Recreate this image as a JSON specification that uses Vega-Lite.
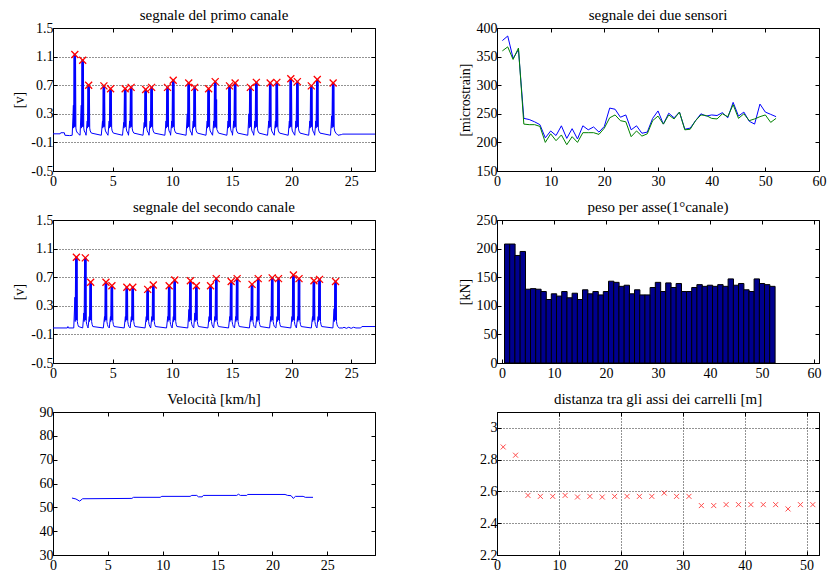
{
"$schema": "https://vega.github.io/schema/vega-lite/v6.json",
"background": "white",
"padding": {"left": 12, "top": 7, "right": 5, "bottom": 5},
"config": {
  "locale": {"number": {"decimal": ".", "thousands": ",", "grouping": [3], "currency": ["$", ""], "minus": "-"}},
  "font": "Liberation Serif",
  "view": {"stroke": "black", "strokeWidth": 1},
  "axis": {"labelFont": "Liberation Serif", "labelFontSize": 14, "labelColor": "black", "titleFont": "Liberation Serif", "titleFontSize": 14, "titleFontWeight": "normal", "titleColor": "black", "tickColor": "black", "tickSize": -4, "labelPadding": 4, "domainColor": "black", "grid": false, "gridColor": "black", "gridDash": [1, 2], "gridOpacity": 0.85, "labelFlush": false, "labelOverlap": false, "format": ".6~g"},
  "axisX": {"labelPadding": 7},
  "title": {"font": "Liberation Serif", "fontSize": 15, "fontWeight": "normal", "color": "black", "offset": -2, "anchor": "middle"}
},
"bounds": "flush",
"columns": 2,
"spacing": {"row": 49, "column": 122},
"datasets": {
  "s1": [
    {"t":0,"v":0.02},{"t":0.6,"v":0.02},{"t":0.65,"v":0.035},{"t":0.95,"v":0.035},{"t":1.0,"v":0.0},{"t":1.4,"v":-0.005},
    {"t":1.61,"v":0},{"t":1.71,"v":0.42},{"t":1.73,"v":0.1},{"t":1.77,"v":1.13},{"t":1.80,"v":0.12},{"t":1.83,"v":1.13},{"t":1.86,"v":0.12},{"t":1.89,"v":1.13},{"t":1.92,"v":0.1},{"t":1.96,"v":0.06},{"t":2.06,"v":0.03},
    {"t":2.27,"v":0},{"t":2.37,"v":0.42},{"t":2.39,"v":0.1},{"t":2.43,"v":1.05},{"t":2.46,"v":0.12},{"t":2.49,"v":1.05},{"t":2.52,"v":0.12},{"t":2.55,"v":1.05},{"t":2.58,"v":0.1},{"t":2.62,"v":0.06},{"t":2.72,"v":0.03},
    {"t":2.77,"v":0},{"t":2.87,"v":0.2},{"t":2.89,"v":0.1},{"t":2.93,"v":0.70},{"t":2.96,"v":0.12},{"t":2.99,"v":0.70},{"t":3.02,"v":0.12},{"t":3.05,"v":0.70},{"t":3.08,"v":0.1},{"t":3.12,"v":0.06},{"t":3.22,"v":0.03},
    {"t":4.05,"v":0},{"t":4.15,"v":0.2},{"t":4.17,"v":0.1},{"t":4.21,"v":0.69},{"t":4.24,"v":0.12},{"t":4.27,"v":0.69},{"t":4.30,"v":0.12},{"t":4.33,"v":0.69},{"t":4.36,"v":0.1},{"t":4.40,"v":0.06},{"t":4.50,"v":0.03},
    {"t":4.61,"v":0},{"t":4.71,"v":0.2},{"t":4.73,"v":0.1},{"t":4.77,"v":0.65},{"t":4.80,"v":0.12},{"t":4.83,"v":0.65},{"t":4.86,"v":0.12},{"t":4.89,"v":0.65},{"t":4.92,"v":0.1},{"t":4.96,"v":0.06},{"t":5.06,"v":0.03},
    {"t":5.83,"v":0},{"t":5.93,"v":0.18},{"t":5.95,"v":0.1},{"t":5.99,"v":0.65},{"t":6.02,"v":0.12},{"t":6.05,"v":0.65},{"t":6.08,"v":0.12},{"t":6.11,"v":0.65},{"t":6.14,"v":0.1},{"t":6.18,"v":0.06},{"t":6.28,"v":0.03},
    {"t":6.33,"v":0},{"t":6.43,"v":0.2},{"t":6.45,"v":0.1},{"t":6.49,"v":0.67},{"t":6.52,"v":0.12},{"t":6.55,"v":0.67},{"t":6.58,"v":0.12},{"t":6.61,"v":0.67},{"t":6.64,"v":0.1},{"t":6.68,"v":0.06},{"t":6.78,"v":0.03},
    {"t":7.55,"v":0},{"t":7.65,"v":0.18},{"t":7.67,"v":0.1},{"t":7.71,"v":0.64},{"t":7.74,"v":0.12},{"t":7.77,"v":0.64},{"t":7.80,"v":0.12},{"t":7.83,"v":0.64},{"t":7.86,"v":0.1},{"t":7.90,"v":0.06},{"t":8.00,"v":0.03},
    {"t":8.05,"v":0},{"t":8.15,"v":0.2},{"t":8.17,"v":0.1},{"t":8.21,"v":0.67},{"t":8.24,"v":0.12},{"t":8.27,"v":0.67},{"t":8.30,"v":0.12},{"t":8.33,"v":0.67},{"t":8.36,"v":0.1},{"t":8.40,"v":0.06},{"t":8.50,"v":0.03},
    {"t":9.38,"v":0},{"t":9.48,"v":0.2},{"t":9.50,"v":0.1},{"t":9.54,"v":0.67},{"t":9.57,"v":0.12},{"t":9.60,"v":0.67},{"t":9.63,"v":0.12},{"t":9.66,"v":0.67},{"t":9.69,"v":0.1},{"t":9.73,"v":0.06},{"t":9.83,"v":0.03},
    {"t":9.86,"v":0},{"t":9.96,"v":0.2},{"t":9.98,"v":0.1},{"t":10.02,"v":0.77},{"t":10.05,"v":0.12},{"t":10.08,"v":0.77},{"t":10.11,"v":0.12},{"t":10.14,"v":0.77},{"t":10.17,"v":0.1},{"t":10.21,"v":0.06},{"t":10.31,"v":0.03},
    {"t":11.16,"v":0},{"t":11.26,"v":0.3},{"t":11.28,"v":0.1},{"t":11.32,"v":0.73},{"t":11.35,"v":0.12},{"t":11.38,"v":0.73},{"t":11.41,"v":0.12},{"t":11.44,"v":0.73},{"t":11.47,"v":0.1},{"t":11.51,"v":0.06},{"t":11.61,"v":0.03},
    {"t":11.66,"v":0},{"t":11.76,"v":0.2},{"t":11.78,"v":0.1},{"t":11.82,"v":0.67},{"t":11.85,"v":0.12},{"t":11.88,"v":0.67},{"t":11.91,"v":0.12},{"t":11.94,"v":0.67},{"t":11.97,"v":0.1},{"t":12.01,"v":0.06},{"t":12.11,"v":0.03},
    {"t":12.83,"v":0},{"t":12.93,"v":0.2},{"t":12.95,"v":0.1},{"t":12.99,"v":0.65},{"t":13.02,"v":0.12},{"t":13.05,"v":0.65},{"t":13.08,"v":0.12},{"t":13.11,"v":0.65},{"t":13.14,"v":0.1},{"t":13.18,"v":0.06},{"t":13.28,"v":0.03},
    {"t":13.38,"v":0},{"t":13.48,"v":0.2},{"t":13.50,"v":0.1},{"t":13.54,"v":0.75},{"t":13.57,"v":0.12},{"t":13.60,"v":0.75},{"t":13.63,"v":0.12},{"t":13.66,"v":0.75},{"t":13.69,"v":0.1},{"t":13.72,"v":0.5},{"t":13.74,"v":0.08},{"t":13.80,"v":0.06},{"t":13.88,"v":0.03},
    {"t":14.58,"v":0},{"t":14.68,"v":0.2},{"t":14.70,"v":0.1},{"t":14.74,"v":0.69},{"t":14.77,"v":0.12},{"t":14.80,"v":0.69},{"t":14.83,"v":0.12},{"t":14.86,"v":0.69},{"t":14.89,"v":0.1},{"t":14.93,"v":0.06},{"t":15.03,"v":0.03},
    {"t":15.05,"v":0},{"t":15.15,"v":0.2},{"t":15.17,"v":0.1},{"t":15.21,"v":0.73},{"t":15.24,"v":0.12},{"t":15.27,"v":0.73},{"t":15.30,"v":0.12},{"t":15.33,"v":0.73},{"t":15.36,"v":0.1},{"t":15.40,"v":0.06},{"t":15.50,"v":0.03},
    {"t":16.33,"v":0},{"t":16.43,"v":0.3},{"t":16.45,"v":0.1},{"t":16.49,"v":0.67},{"t":16.52,"v":0.12},{"t":16.55,"v":0.67},{"t":16.58,"v":0.12},{"t":16.61,"v":0.67},{"t":16.64,"v":0.1},{"t":16.68,"v":0.06},{"t":16.78,"v":0.03},
    {"t":16.83,"v":0},{"t":16.93,"v":0.2},{"t":16.95,"v":0.1},{"t":16.99,"v":0.74},{"t":17.02,"v":0.12},{"t":17.05,"v":0.74},{"t":17.08,"v":0.12},{"t":17.11,"v":0.74},{"t":17.14,"v":0.1},{"t":17.18,"v":0.06},{"t":17.28,"v":0.03},
    {"t":17.99,"v":0},{"t":18.09,"v":0.2},{"t":18.11,"v":0.1},{"t":18.15,"v":0.73},{"t":18.18,"v":0.12},{"t":18.21,"v":0.73},{"t":18.24,"v":0.12},{"t":18.27,"v":0.73},{"t":18.30,"v":0.1},{"t":18.34,"v":0.06},{"t":18.44,"v":0.03},
    {"t":18.55,"v":0},{"t":18.65,"v":0.2},{"t":18.67,"v":0.1},{"t":18.71,"v":0.74},{"t":18.74,"v":0.12},{"t":18.77,"v":0.74},{"t":18.80,"v":0.12},{"t":18.83,"v":0.74},{"t":18.86,"v":0.1},{"t":18.90,"v":0.06},{"t":19.00,"v":0.03},
    {"t":19.72,"v":0},{"t":19.82,"v":0.2},{"t":19.84,"v":0.1},{"t":19.88,"v":0.79},{"t":19.91,"v":0.12},{"t":19.94,"v":0.79},{"t":19.97,"v":0.12},{"t":20.00,"v":0.79},{"t":20.03,"v":0.1},{"t":20.07,"v":0.06},{"t":20.17,"v":0.03},
    {"t":20.27,"v":0},{"t":20.37,"v":0.2},{"t":20.39,"v":0.1},{"t":20.43,"v":0.75},{"t":20.46,"v":0.12},{"t":20.49,"v":0.75},{"t":20.52,"v":0.12},{"t":20.55,"v":0.75},{"t":20.58,"v":0.1},{"t":20.62,"v":0.06},{"t":20.72,"v":0.03},
    {"t":21.44,"v":0},{"t":21.54,"v":0.2},{"t":21.56,"v":0.1},{"t":21.60,"v":0.69},{"t":21.63,"v":0.12},{"t":21.66,"v":0.69},{"t":21.69,"v":0.12},{"t":21.72,"v":0.69},{"t":21.75,"v":0.1},{"t":21.79,"v":0.06},{"t":21.89,"v":0.03},
    {"t":21.94,"v":0},{"t":22.04,"v":0.2},{"t":22.06,"v":0.1},{"t":22.10,"v":0.78},{"t":22.13,"v":0.12},{"t":22.16,"v":0.78},{"t":22.19,"v":0.12},{"t":22.22,"v":0.78},{"t":22.25,"v":0.1},{"t":22.29,"v":0.06},{"t":22.39,"v":0.03},
    {"t":23.27,"v":0},{"t":23.37,"v":0.27},{"t":23.39,"v":0.1},{"t":23.43,"v":0.73},{"t":23.46,"v":0.12},{"t":23.49,"v":0.73},{"t":23.52,"v":0.12},{"t":23.55,"v":0.73},{"t":23.58,"v":0.1},{"t":23.62,"v":0.06},{"t":23.72,"v":0.03},
    {"t":23.9,"v":0.0},{"t":24.2,"v":0.01},{"t":24.3,"v":0.016},{"t":27,"v":0.016}
  ],
  "s1p": [
    {"t":1.83,"v":1.13},{"t":2.49,"v":1.05},{"t":2.99,"v":0.70},{"t":4.27,"v":0.69},{"t":4.83,"v":0.65},{"t":6.05,"v":0.65},{"t":6.55,"v":0.67},{"t":7.77,"v":0.64},{"t":8.27,"v":0.67},{"t":9.60,"v":0.67},{"t":10.08,"v":0.77},{"t":11.38,"v":0.73},{"t":11.88,"v":0.67},{"t":13.05,"v":0.65},{"t":13.60,"v":0.75},{"t":14.80,"v":0.69},{"t":15.27,"v":0.73},{"t":16.55,"v":0.67},{"t":17.05,"v":0.74},{"t":18.21,"v":0.73},{"t":18.77,"v":0.74},{"t":19.94,"v":0.79},{"t":20.49,"v":0.75},{"t":21.66,"v":0.69},{"t":22.16,"v":0.78},{"t":23.49,"v":0.73}
  ],
  "s3": [
    {"t":0,"v":-0.01},{"t":1.2,"v":-0.01},{"t":1.25,"v":0.01},{"t":1.3,"v":-0.01},
    {"t":1.74,"v":-0.01},{"t":1.84,"v":0.42},{"t":1.86,"v":0.08},{"t":1.90,"v":0.98},{"t":1.93,"v":0.1},{"t":1.96,"v":0.98},{"t":1.99,"v":0.1},{"t":2.02,"v":0.98},{"t":2.04,"v":0.08},{"t":2.08,"v":0.04},{"t":2.14,"v":0.01},
    {"t":2.49,"v":-0.01},{"t":2.59,"v":0.2},{"t":2.61,"v":0.08},{"t":2.65,"v":0.97},{"t":2.68,"v":0.1},{"t":2.71,"v":0.97},{"t":2.74,"v":0.1},{"t":2.77,"v":0.97},{"t":2.79,"v":0.08},{"t":2.83,"v":0.04},{"t":2.89,"v":0.01},
    {"t":2.94,"v":-0.01},{"t":3.04,"v":0.15},{"t":3.06,"v":0.08},{"t":3.10,"v":0.63},{"t":3.13,"v":0.1},{"t":3.16,"v":0.63},{"t":3.19,"v":0.1},{"t":3.22,"v":0.63},{"t":3.24,"v":0.08},{"t":3.28,"v":0.04},{"t":3.34,"v":0.01},
    {"t":4.22,"v":-0.01},{"t":4.32,"v":0.15},{"t":4.34,"v":0.08},{"t":4.38,"v":0.63},{"t":4.41,"v":0.1},{"t":4.44,"v":0.63},{"t":4.47,"v":0.1},{"t":4.50,"v":0.63},{"t":4.52,"v":0.08},{"t":4.56,"v":0.04},{"t":4.62,"v":0.01},
    {"t":4.72,"v":-0.01},{"t":4.82,"v":0.15},{"t":4.84,"v":0.08},{"t":4.88,"v":0.58},{"t":4.91,"v":0.1},{"t":4.94,"v":0.58},{"t":4.97,"v":0.1},{"t":5.00,"v":0.58},{"t":5.02,"v":0.08},{"t":5.06,"v":0.04},{"t":5.12,"v":0.01},
    {"t":5.97,"v":-0.01},{"t":6.07,"v":0.15},{"t":6.09,"v":0.08},{"t":6.13,"v":0.56},{"t":6.16,"v":0.1},{"t":6.19,"v":0.56},{"t":6.22,"v":0.1},{"t":6.25,"v":0.56},{"t":6.27,"v":0.08},{"t":6.31,"v":0.04},{"t":6.37,"v":0.01},
    {"t":6.47,"v":-0.01},{"t":6.57,"v":0.15},{"t":6.59,"v":0.08},{"t":6.63,"v":0.56},{"t":6.66,"v":0.1},{"t":6.69,"v":0.56},{"t":6.72,"v":0.1},{"t":6.75,"v":0.56},{"t":6.77,"v":0.08},{"t":6.81,"v":0.04},{"t":6.87,"v":0.01},
    {"t":7.72,"v":-0.01},{"t":7.82,"v":0.15},{"t":7.84,"v":0.08},{"t":7.88,"v":0.53},{"t":7.91,"v":0.1},{"t":7.94,"v":0.53},{"t":7.97,"v":0.1},{"t":8.00,"v":0.53},{"t":8.02,"v":0.08},{"t":8.06,"v":0.04},{"t":8.12,"v":0.01},
    {"t":8.19,"v":-0.01},{"t":8.29,"v":0.15},{"t":8.31,"v":0.08},{"t":8.35,"v":0.59},{"t":8.38,"v":0.1},{"t":8.41,"v":0.59},{"t":8.44,"v":0.1},{"t":8.47,"v":0.59},{"t":8.49,"v":0.08},{"t":8.53,"v":0.04},{"t":8.59,"v":0.01},
    {"t":9.52,"v":-0.01},{"t":9.62,"v":0.15},{"t":9.64,"v":0.08},{"t":9.68,"v":0.58},{"t":9.71,"v":0.1},{"t":9.74,"v":0.58},{"t":9.77,"v":0.1},{"t":9.80,"v":0.58},{"t":9.82,"v":0.08},{"t":9.86,"v":0.04},{"t":9.92,"v":0.01},
    {"t":9.99,"v":-0.01},{"t":10.09,"v":0.15},{"t":10.11,"v":0.08},{"t":10.15,"v":0.66},{"t":10.18,"v":0.1},{"t":10.21,"v":0.66},{"t":10.24,"v":0.1},{"t":10.27,"v":0.66},{"t":10.29,"v":0.08},{"t":10.33,"v":0.04},{"t":10.39,"v":0.01},
    {"t":11.30,"v":-0.01},{"t":11.40,"v":0.25},{"t":11.42,"v":0.08},{"t":11.46,"v":0.65},{"t":11.49,"v":0.1},{"t":11.52,"v":0.65},{"t":11.55,"v":0.1},{"t":11.58,"v":0.65},{"t":11.60,"v":0.08},{"t":11.64,"v":0.04},{"t":11.70,"v":0.01},
    {"t":11.80,"v":-0.01},{"t":11.90,"v":0.2},{"t":11.92,"v":0.08},{"t":11.96,"v":0.58},{"t":11.99,"v":0.1},{"t":12.02,"v":0.58},{"t":12.05,"v":0.1},{"t":12.08,"v":0.58},{"t":12.10,"v":0.08},{"t":12.14,"v":0.04},{"t":12.20,"v":0.01},
    {"t":12.99,"v":-0.01},{"t":13.09,"v":0.15},{"t":13.11,"v":0.08},{"t":13.15,"v":0.58},{"t":13.18,"v":0.1},{"t":13.21,"v":0.58},{"t":13.24,"v":0.1},{"t":13.27,"v":0.58},{"t":13.29,"v":0.08},{"t":13.33,"v":0.04},{"t":13.39,"v":0.01},
    {"t":13.47,"v":-0.01},{"t":13.57,"v":0.15},{"t":13.59,"v":0.08},{"t":13.63,"v":0.68},{"t":13.66,"v":0.1},{"t":13.69,"v":0.68},{"t":13.72,"v":0.1},{"t":13.75,"v":0.68},{"t":13.77,"v":0.08},{"t":13.81,"v":0.04},{"t":13.87,"v":0.01},
    {"t":14.72,"v":-0.01},{"t":14.82,"v":0.15},{"t":14.84,"v":0.08},{"t":14.88,"v":0.64},{"t":14.91,"v":0.1},{"t":14.94,"v":0.64},{"t":14.97,"v":0.1},{"t":15.00,"v":0.64},{"t":15.02,"v":0.08},{"t":15.06,"v":0.04},{"t":15.12,"v":0.01},
    {"t":15.22,"v":-0.01},{"t":15.32,"v":0.15},{"t":15.34,"v":0.08},{"t":15.38,"v":0.68},{"t":15.41,"v":0.1},{"t":15.44,"v":0.68},{"t":15.47,"v":0.1},{"t":15.50,"v":0.68},{"t":15.52,"v":0.08},{"t":15.56,"v":0.04},{"t":15.62,"v":0.01},
    {"t":16.47,"v":-0.01},{"t":16.57,"v":0.15},{"t":16.59,"v":0.08},{"t":16.63,"v":0.60},{"t":16.66,"v":0.1},{"t":16.69,"v":0.60},{"t":16.72,"v":0.1},{"t":16.75,"v":0.60},{"t":16.77,"v":0.08},{"t":16.81,"v":0.04},{"t":16.87,"v":0.01},
    {"t":16.99,"v":-0.01},{"t":17.09,"v":0.15},{"t":17.11,"v":0.08},{"t":17.15,"v":0.68},{"t":17.18,"v":0.1},{"t":17.21,"v":0.68},{"t":17.24,"v":0.1},{"t":17.27,"v":0.68},{"t":17.29,"v":0.08},{"t":17.33,"v":0.04},{"t":17.39,"v":0.01},
    {"t":18.16,"v":-0.01},{"t":18.26,"v":0.15},{"t":18.28,"v":0.08},{"t":18.32,"v":0.69},{"t":18.35,"v":0.1},{"t":18.38,"v":0.69},{"t":18.41,"v":0.1},{"t":18.44,"v":0.69},{"t":18.46,"v":0.08},{"t":18.50,"v":0.04},{"t":18.56,"v":0.01},
    {"t":18.69,"v":-0.01},{"t":18.79,"v":0.15},{"t":18.81,"v":0.08},{"t":18.85,"v":0.68},{"t":18.88,"v":0.1},{"t":18.91,"v":0.68},{"t":18.94,"v":0.1},{"t":18.97,"v":0.68},{"t":18.99,"v":0.08},{"t":19.03,"v":0.04},{"t":19.09,"v":0.01},
    {"t":19.94,"v":-0.01},{"t":20.04,"v":0.15},{"t":20.06,"v":0.08},{"t":20.10,"v":0.73},{"t":20.13,"v":0.1},{"t":20.16,"v":0.73},{"t":20.19,"v":0.1},{"t":20.22,"v":0.73},{"t":20.24,"v":0.08},{"t":20.28,"v":0.04},{"t":20.34,"v":0.01},
    {"t":20.41,"v":-0.01},{"t":20.51,"v":0.15},{"t":20.53,"v":0.08},{"t":20.57,"v":0.68},{"t":20.60,"v":0.1},{"t":20.63,"v":0.68},{"t":20.66,"v":0.1},{"t":20.69,"v":0.68},{"t":20.71,"v":0.08},{"t":20.75,"v":0.04},{"t":20.81,"v":0.01},
    {"t":21.66,"v":-0.01},{"t":21.76,"v":0.15},{"t":21.78,"v":0.08},{"t":21.82,"v":0.65},{"t":21.85,"v":0.1},{"t":21.88,"v":0.65},{"t":21.91,"v":0.1},{"t":21.94,"v":0.65},{"t":21.96,"v":0.08},{"t":22.00,"v":0.04},{"t":22.06,"v":0.01},
    {"t":22.13,"v":-0.01},{"t":22.23,"v":0.15},{"t":22.25,"v":0.08},{"t":22.29,"v":0.67},{"t":22.32,"v":0.1},{"t":22.35,"v":0.67},{"t":22.38,"v":0.1},{"t":22.41,"v":0.67},{"t":22.43,"v":0.08},{"t":22.47,"v":0.04},{"t":22.53,"v":0.01},
    {"t":23.47,"v":-0.01},{"t":23.57,"v":0.26},{"t":23.59,"v":0.08},{"t":23.63,"v":0.64},{"t":23.66,"v":0.1},{"t":23.69,"v":0.64},{"t":23.72,"v":0.1},{"t":23.75,"v":0.64},{"t":23.77,"v":0.08},{"t":23.81,"v":0.04},{"t":23.87,"v":0.01},
    {"t":24.0,"v":-0.01},{"t":24.3,"v":-0.01},{"t":24.4,"v":0.0},{"t":24.6,"v":-0.015},{"t":24.8,"v":0.0},{"t":25.0,"v":-0.015},{"t":25.2,"v":0.0},{"t":25.4,"v":-0.01},{"t":25.8,"v":-0.01},{"t":25.9,"v":0.01},{"t":27,"v":0.01}
  ],
  "s3p": [
    {"t":1.96,"v":0.98},{"t":2.71,"v":0.97},{"t":3.16,"v":0.63},{"t":4.44,"v":0.63},{"t":4.94,"v":0.58},{"t":6.19,"v":0.56},{"t":6.69,"v":0.56},{"t":7.94,"v":0.53},{"t":8.41,"v":0.59},{"t":9.74,"v":0.58},{"t":10.21,"v":0.66},{"t":11.52,"v":0.65},{"t":12.02,"v":0.58},{"t":13.21,"v":0.58},{"t":13.69,"v":0.68},{"t":14.94,"v":0.64},{"t":15.44,"v":0.68},{"t":16.69,"v":0.60},{"t":17.21,"v":0.68},{"t":18.38,"v":0.69},{"t":18.91,"v":0.68},{"t":20.16,"v":0.73},{"t":20.63,"v":0.68},{"t":21.88,"v":0.65},{"t":22.35,"v":0.67},{"t":23.69,"v":0.64}
  ],
  "s2": [
    {"n":1,"a":378,"b":360},{"n":2,"a":386,"b":367},{"n":3,"a":347,"b":345},{"n":4,"a":362,"b":365},{"n":5,"a":242,"b":232},{"n":6,"a":240,"b":231},{"n":7,"a":236,"b":231},{"n":8,"a":231,"b":228},{"n":9,"a":208,"b":200},{"n":10,"a":220,"b":215},
    {"n":11,"a":212,"b":203},{"n":12,"a":229,"b":213},{"n":13,"a":207,"b":196},{"n":14,"a":224,"b":210},{"n":15,"a":206,"b":200},{"n":16,"a":229,"b":217},{"n":17,"a":222,"b":217},{"n":18,"a":227,"b":217},{"n":19,"a":218,"b":214},{"n":20,"a":228,"b":225},
    {"n":21,"a":260,"b":243},{"n":22,"a":258,"b":248},{"n":23,"a":244,"b":238},{"n":24,"a":248,"b":236},{"n":25,"a":222,"b":210},{"n":26,"a":229,"b":220},{"n":27,"a":216,"b":211},{"n":28,"a":218,"b":215},{"n":29,"a":242,"b":238},{"n":30,"a":255,"b":246},
    {"n":31,"a":232,"b":232},{"n":32,"a":251,"b":248},{"n":33,"a":243,"b":241},{"n":34,"a":253,"b":253},{"n":35,"a":223,"b":222},{"n":36,"a":225,"b":223},{"n":37,"a":238,"b":238},{"n":38,"a":250,"b":248},{"n":39,"a":246,"b":247},{"n":40,"a":248,"b":242},
    {"n":41,"a":247,"b":241},{"n":42,"a":252,"b":250},{"n":43,"a":243,"b":245},{"n":44,"a":270,"b":266},{"n":45,"a":246,"b":242},{"n":46,"a":253,"b":250},{"n":47,"a":237,"b":238},{"n":48,"a":232,"b":241},{"n":49,"a":267,"b":245},{"n":50,"a":253,"b":248},
    {"n":51,"a":249,"b":235},{"n":52,"a":245,"b":242}
  ],
  "s4": [
    {"n":1,"v":208},{"n":2,"v":208},{"n":3,"v":188},{"n":4,"v":195},{"n":5,"v":129},{"n":6,"v":130},{"n":7,"v":129},{"n":8,"v":125},{"n":9,"v":111},{"n":10,"v":121},
    {"n":11,"v":117},{"n":12,"v":125},{"n":13,"v":114},{"n":14,"v":122},{"n":15,"v":111},{"n":16,"v":128},{"n":17,"v":121},{"n":18,"v":125},{"n":19,"v":119},{"n":20,"v":125},
    {"n":21,"v":143},{"n":22,"v":141},{"n":23,"v":134},{"n":24,"v":136},{"n":25,"v":121},{"n":26,"v":128},{"n":27,"v":119},{"n":28,"v":119},{"n":29,"v":132},{"n":30,"v":141},
    {"n":31,"v":125},{"n":32,"v":140},{"n":33,"v":132},{"n":34,"v":139},{"n":35,"v":125},{"n":36,"v":125},{"n":37,"v":132},{"n":38,"v":137},{"n":39,"v":134},{"n":40,"v":136},
    {"n":41,"v":134},{"n":42,"v":137},{"n":43,"v":134},{"n":44,"v":147},{"n":45,"v":136},{"n":46,"v":139},{"n":47,"v":128},{"n":48,"v":125},{"n":49,"v":147},{"n":50,"v":139},
    {"n":51,"v":137},{"n":52,"v":134}
  ],
  "s5": [
    {"t":1.73,"v":53.9},{"t":2.09,"v":53.5},{"t":2.43,"v":52.6},{"t":2.7,"v":53.6},{"t":7.19,"v":53.75},{"t":7.34,"v":54.2},{"t":9.77,"v":54.2},{"t":9.92,"v":54.6},{"t":12.5,"v":54.6},{"t":12.65,"v":55.0},{"t":13.1,"v":55.0},{"t":13.26,"v":54.4},{"t":13.6,"v":54.4},{"t":13.7,"v":55.0},{"t":16.75,"v":55.0},{"t":16.9,"v":55.5},{"t":17.08,"v":55.0},{"t":17.66,"v":55.0},{"t":17.75,"v":55.4},{"t":21.15,"v":55.4},{"t":21.39,"v":55.0},{"t":21.7,"v":54.9},{"t":21.9,"v":53.75},{"t":22.1,"v":54.6},{"t":22.8,"v":54.6},{"t":23.0,"v":54.2},{"t":23.7,"v":54.2}
  ],
  "s6": [
    {"n":1,"d":2.88},{"n":3,"d":2.828},{"n":5,"d":2.575},{"n":7,"d":2.569},{"n":9,"d":2.569},{"n":11,"d":2.575},{"n":13,"d":2.565},{"n":15,"d":2.569},{"n":17,"d":2.565},{"n":19,"d":2.569},
    {"n":21,"d":2.569},{"n":23,"d":2.569},{"n":25,"d":2.569},{"n":27,"d":2.59},{"n":29,"d":2.569},{"n":31,"d":2.569},{"n":33,"d":2.511},{"n":35,"d":2.511},{"n":37,"d":2.517},{"n":39,"d":2.517},
    {"n":41,"d":2.517},{"n":43,"d":2.517},{"n":45,"d":2.517},{"n":47,"d":2.49},{"n":49,"d":2.517},{"n":51,"d":2.517}
  ]
},
"concat": [
  {
    "width": 322, "height": 143,
    "title": "segnale del primo canale",
    "layer": [
      {"data": {"name": "s1"}, "mark": {"type": "line", "color": "#0000FF", "strokeWidth": 1},
       "encoding": {
         "x": {"field": "t", "type": "quantitative", "scale": {"domain": [0, 27], "nice": false, "zero": false}, "axis": {"values": [0, 5, 10, 15, 20, 25], "title": null}},
         "y": {"field": "v", "type": "quantitative", "scale": {"domain": [-0.5, 1.5], "nice": false, "zero": false}, "axis": {"values": [-0.5, -0.1, 0.3, 0.7, 1.1, 1.5], "title": "[v]", "grid": true}}}},
      {"data": {"name": "s1p"}, "mark": {"type": "point", "shape": "M-1,-1L1,1M-1,1L1,-1", "color": "#FF0000", "filled": false, "size": 49, "strokeWidth": 1.3, "opacity": 1},
       "encoding": {"x": {"field": "t", "type": "quantitative", "axis": null}, "y": {"field": "v", "type": "quantitative", "axis": null}}},
      {"data": {"name": "s1p"}, "mark": {"type": "point", "opacity": 0},
       "encoding": {
         "x": {"field": "t", "type": "quantitative", "axis": {"orient": "top", "values": [0, 5, 10, 15, 20, 25], "labels": false, "title": null, "domain": false}},
         "y": {"field": "v", "type": "quantitative", "axis": {"orient": "right", "values": [-0.5, -0.1, 0.3, 0.7, 1.1, 1.5], "labels": false, "title": null, "domain": false}}}}
    ],
    "resolve": {"axis": {"x": "independent", "y": "independent"}}
  },
  {
    "width": 322, "height": 143,
    "title": "segnale dei due sensori",
    "layer": [
      {"data": {"name": "s2"}, "mark": {"type": "line", "color": "#0000FF", "strokeWidth": 1},
       "encoding": {
         "x": {"field": "n", "type": "quantitative", "scale": {"domain": [0, 60], "nice": false, "zero": false}, "axis": {"values": [0, 10, 20, 30, 40, 50, 60], "title": null}},
         "y": {"field": "a", "type": "quantitative", "scale": {"domain": [150, 400], "nice": false, "zero": false}, "axis": {"values": [150, 200, 250, 300, 350, 400], "title": "[microstrain]"}}}},
      {"data": {"name": "s2"}, "mark": {"type": "line", "color": "#008000", "strokeWidth": 1},
       "encoding": {"x": {"field": "n", "type": "quantitative", "axis": null}, "y": {"field": "b", "type": "quantitative", "axis": null}}},
      {"data": {"name": "s2"}, "mark": {"type": "point", "opacity": 0},
       "encoding": {
         "x": {"field": "n", "type": "quantitative", "axis": {"orient": "top", "values": [0, 10, 20, 30, 40, 50, 60], "labels": false, "title": null, "domain": false}},
         "y": {"field": "a", "type": "quantitative", "axis": {"orient": "right", "values": [150, 200, 250, 300, 350, 400], "labels": false, "title": null, "domain": false}}}}
    ],
    "resolve": {"axis": {"x": "independent", "y": "independent"}}
  },
  {
    "width": 322, "height": 143,
    "title": "segnale del secondo canale",
    "layer": [
      {"data": {"name": "s3"}, "mark": {"type": "line", "color": "#0000FF", "strokeWidth": 1},
       "encoding": {
         "x": {"field": "t", "type": "quantitative", "scale": {"domain": [0, 27], "nice": false, "zero": false}, "axis": {"values": [0, 5, 10, 15, 20, 25], "title": null}},
         "y": {"field": "v", "type": "quantitative", "scale": {"domain": [-0.5, 1.5], "nice": false, "zero": false}, "axis": {"values": [-0.5, -0.1, 0.3, 0.7, 1.1, 1.5], "title": "[v]", "grid": true}}}},
      {"data": {"name": "s3p"}, "mark": {"type": "point", "shape": "M-1,-1L1,1M-1,1L1,-1", "color": "#FF0000", "filled": false, "size": 49, "strokeWidth": 1.3, "opacity": 1},
       "encoding": {"x": {"field": "t", "type": "quantitative", "axis": null}, "y": {"field": "v", "type": "quantitative", "axis": null}}},
      {"data": {"name": "s3p"}, "mark": {"type": "point", "opacity": 0},
       "encoding": {
         "x": {"field": "t", "type": "quantitative", "axis": {"orient": "top", "values": [0, 5, 10, 15, 20, 25], "labels": false, "title": null, "domain": false}},
         "y": {"field": "v", "type": "quantitative", "axis": {"orient": "right", "values": [-0.5, -0.1, 0.3, 0.7, 1.1, 1.5], "labels": false, "title": null, "domain": false}}}}
    ],
    "resolve": {"axis": {"x": "independent", "y": "independent"}}
  },
  {
    "width": 322, "height": 143,
    "title": "peso per asse(1°canale)",
    "layer": [
      {"data": {"name": "s4"}, "mark": {"type": "bar", "color": "#00008F", "stroke": "black", "strokeWidth": 1, "size": 5.4},
       "encoding": {
         "x": {"field": "n", "type": "quantitative", "scale": {"domain": [0, 60], "nice": false, "zero": false}, "axis": {"values": [0, 10, 20, 30, 40, 50, 60], "title": null}},
         "y": {"field": "v", "type": "quantitative", "scale": {"domain": [0, 250], "nice": false}, "axis": {"values": [0, 50, 100, 150, 200, 250], "title": "[kN]"}}}},
      {"data": {"name": "s4"}, "mark": {"type": "point", "opacity": 0},
       "encoding": {
         "x": {"field": "n", "type": "quantitative", "axis": {"orient": "top", "values": [0, 10, 20, 30, 40, 50, 60], "labels": false, "title": null, "domain": false}},
         "y": {"field": "v", "type": "quantitative", "axis": {"orient": "right", "values": [0, 50, 100, 150, 200, 250], "labels": false, "title": null, "domain": false}}}}
    ],
    "resolve": {"axis": {"x": "independent", "y": "independent"}}
  },
  {
    "width": 322, "height": 143,
    "title": "Velocità [km/h]",
    "layer": [
      {"data": {"name": "s5"}, "mark": {"type": "line", "color": "#0000FF", "strokeWidth": 1},
       "encoding": {
         "x": {"field": "t", "type": "quantitative", "scale": {"domain": [0, 29.35], "nice": false, "zero": false}, "axis": {"values": [0, 5, 10, 15, 20, 25], "title": null}},
         "y": {"field": "v", "type": "quantitative", "scale": {"domain": [30, 90], "nice": false, "zero": false}, "axis": {"values": [30, 40, 50, 60, 70, 80, 90], "title": null}}}},
      {"data": {"name": "s5"}, "mark": {"type": "point", "opacity": 0},
       "encoding": {
         "x": {"field": "t", "type": "quantitative", "axis": {"orient": "top", "values": [0, 5, 10, 15, 20, 25], "labels": false, "title": null, "domain": false}},
         "y": {"field": "v", "type": "quantitative", "axis": {"orient": "right", "values": [30, 40, 50, 60, 70, 80, 90], "labels": false, "title": null, "domain": false}}}}
    ],
    "resolve": {"axis": {"x": "independent", "y": "independent"}}
  },
  {
    "width": 322, "height": 143,
    "title": {"text": "distanza tra gli assi dei carrelli [m]", "offset": 5},
    "layer": [
      {"data": {"name": "s6"}, "mark": {"type": "point", "shape": "M-1,-1L1,1M-1,1L1,-1", "color": "#FF0000", "filled": false, "size": 25, "strokeWidth": 1},
       "encoding": {
         "x": {"field": "n", "type": "quantitative", "scale": {"domain": [0, 52], "nice": false, "zero": false}, "axis": {"values": [0, 10, 20, 30, 40, 50], "title": null, "grid": true}},
         "y": {"field": "d", "type": "quantitative", "scale": {"domain": [2.2, 3.1], "nice": false, "zero": false}, "axis": {"values": [2.2, 2.4, 2.6, 2.8, 3.0], "title": null, "grid": true}}}},
      {"data": {"name": "s6"}, "mark": {"type": "point", "opacity": 0},
       "encoding": {
         "x": {"field": "n", "type": "quantitative", "axis": {"orient": "top", "values": [0, 10, 20, 30, 40, 50], "labels": false, "title": null, "domain": false}},
         "y": {"field": "d", "type": "quantitative", "axis": {"orient": "right", "values": [2.2, 2.4, 2.6, 2.8, 3.0], "labels": false, "title": null, "domain": false}}}}
    ],
    "resolve": {"axis": {"x": "independent", "y": "independent"}}
  }
]
}
